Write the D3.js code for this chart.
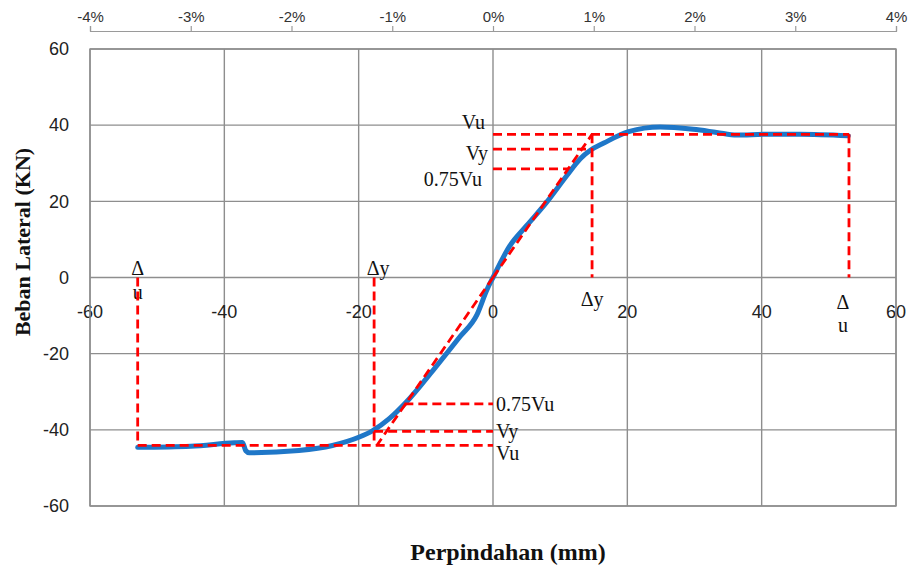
<!DOCTYPE html>
<html><head><meta charset="utf-8">
<script src="https://cdn.jsdelivr.net/npm/d3@7"></script>
<style>
html,body{margin:0;padding:0;background:#fff;}
svg{display:block;}
</style></head>
<body>
<svg id="chart" width="910" height="569"></svg>
<script>
// ---- data ----
const dispMM = [-52.9, -45, -38.5, -37.3, -36.8, -36.3, -28.9, -23.9, -19.9, -17.9, -15.4, -12.9, -8.9, -4.9, -2.4, -0.9, 0, 2.5, 5.0, 8.0, 11.0, 13.0, 14.5, 16.5, 20.2, 24.9, 29.8, 33.3, 36.3, 40.7, 45.7, 52.9];
const loadKN = [-44.6, -44.3, -43.4, -43.3, -45.5, -46.0, -45.4, -44.1, -41.9, -40.2, -37.0, -32.7, -24.3, -15.5, -9.8, -3.2, 0, 8.3, 13.6, 19.8, 26.8, 31.2, 33.4, 35.3, 38.3, 39.5, 38.9, 38.1, 37.4, 37.6, 37.6, 37.2];
const xTicks = [-60, -40, -20, 0, 20, 40, 60];
const yTicks = [-60, -40, -20, 0, 20, 40, 60];
const driftTicks = [-4, -3, -2, -1, 0, 1, 2, 3, 4];
// bilinear idealisation values
const posVu = 37.6, posVy = 33.7, posV75 = 28.5, posDy = 14.75, posDu = 53.0, posDiagX75 = 11.3;
const negVu = -44.1, negVy = -40.4, negV75 = -33.2, negDy = -17.7, negDu = -52.9, negDiagX = -17.3, negDiagX75 = -13.2;

// ---- layout ----
const svg = d3.select("#chart");
const L = 90, R = 896, T = 49, B = 506;
const x = d3.scaleLinear().domain([-60, 60]).range([L, R]);
const y = d3.scaleLinear().domain([-60, 60]).range([B, T]);
const xTop = d3.scaleLinear().domain([-4, 4]).range([L, R]);

const grid = svg.append("g");
grid.selectAll("line.v").data(xTicks).enter().append("line")
  .attr("x1", d => x(d)).attr("x2", d => x(d)).attr("y1", T).attr("y2", B)
  .attr("stroke", "#8e8e8e").attr("stroke-width", 1.4);
grid.selectAll("line.h").data(yTicks).enter().append("line")
  .attr("x1", L).attr("x2", R).attr("y1", d => y(d)).attr("y2", d => y(d))
  .attr("stroke", "#8e8e8e").attr("stroke-width", 1.4);

// y tick labels
svg.append("g").selectAll("text").data(yTicks).enter().append("text")
  .attr("x", 69).attr("y", d => y(d)).attr("dy", "0.35em")
  .attr("text-anchor", "end").attr("font-family", "Liberation Sans, Arial, sans-serif")
  .attr("font-size", 18).attr("fill", "#222").text(d => d);

// x tick labels (along zero line)
svg.append("g").selectAll("text").data(xTicks).enter().append("text")
  .attr("x", d => x(d)).attr("y", y(0) + 40)
  .attr("text-anchor", "middle").attr("font-family", "Liberation Sans, Arial, sans-serif")
  .attr("font-size", 18).attr("fill", "#222").text(d => d);

// top drift axis
const topAxis = d3.axisTop(xTop).tickValues(driftTicks).tickSize(5).tickFormat(d => d + "%");
const ta = svg.append("g").attr("transform", "translate(0,31)").call(topAxis);
ta.select(".domain").attr("stroke", "#9a9a9a").attr("stroke-width", 1.2);
ta.selectAll(".tick line").attr("stroke", "#9a9a9a").attr("stroke-width", 1.2);
ta.selectAll(".tick text").attr("font-family", "Liberation Sans, Arial, sans-serif")
  .attr("font-size", 15).attr("fill", "#333").attr("y", -9);

// annotation labels (under dashed lines)
const ann = svg.append("g").attr("font-family", "Liberation Serif, Times New Roman, serif")
  .attr("font-size", 20).attr("fill", "#111");
function lab(tx, px, py, anchor) {
  ann.append("text").attr("x", px).attr("y", py).attr("dy", "0.35em")
    .attr("text-anchor", anchor).text(tx);
}
lab("Vu", x(0) - 8, y(posVu) - 12, "end");
lab("Vy", x(0) - 5, y(posVy) + 4, "end");
lab("0.75Vu", x(0) - 11, y(posV75) + 10, "end");
lab("\u0394y", x(posDy), y(0) + 21, "middle");
lab("\u0394", x(posDu) - 6, y(0) + 24, "middle");
lab("u", x(posDu) - 6, y(0) + 47, "middle");
lab("\u0394", x(negDu), y(0) - 10, "middle");
lab("u", x(negDu), y(0) + 14, "middle");
lab("\u0394y", x(negDy) + 4, y(0) - 10, "middle");
lab("0.75Vu", x(0) + 3, y(negV75), "start");
lab("Vy", x(0) + 3, y(negVy), "start");
lab("Vu", x(0) + 3, y(negVu) + 8, "start");

// plot border
svg.append("rect").attr("x", L).attr("y", T).attr("width", R - L).attr("height", B - T)
  .attr("fill", "none").attr("stroke", "#8e8e8e").attr("stroke-width", 1.4);

// curve
const line = d3.line().x(d => x(d[0])).y(d => y(d[1])).curve(d3.curveMonotoneX);
svg.append("path").datum(dispMM.map((d, i) => [d, loadKN[i]]))
  .attr("d", line).attr("fill", "none").attr("stroke", "#1f77c8")
  .attr("stroke-width", 5).attr("stroke-linejoin", "round").attr("stroke-linecap", "round");

// dashed red idealisation lines
const segs = [
  [[0, posVu], [posDu, posVu]],
  [[posDu, posVu], [posDu, 0]],
  [[0, posVy], [posDy, posVy]],
  [[0, posV75], [posDiagX75, posV75]],
  [[posDy, posVu], [posDy, 0]],
  [[0, 0], [posDy, posVu]],
  [[0, 0], [negDiagX, negVu]],
  [[negDu, 0], [negDu, negVu]],
  [[negDu, negVu], [0, negVu]],
  [[negDy, 0], [negDy, negVu]],
  [[negDy, negVy], [0, negVy]],
  [[negDiagX75, negV75], [0, negV75]]
];
svg.append("g").selectAll("line").data(segs).enter().append("line")
  .attr("x1", d => x(d[0][0])).attr("y1", d => y(d[0][1]))
  .attr("x2", d => x(d[1][0])).attr("y2", d => y(d[1][1]))
  .attr("stroke", "#ff0000").attr("stroke-width", 2.8).attr("stroke-dasharray", "9,5");

// axis titles
svg.append("text").attr("x", 508).attr("y", 560)
  .attr("text-anchor", "middle").attr("font-family", "Liberation Serif, Times New Roman, serif")
  .attr("font-weight", "bold").attr("font-size", 24).attr("fill", "#111").text("Perpindahan (mm)");
svg.append("text").attr("transform", "translate(30,242) rotate(-90)")
  .attr("text-anchor", "middle").attr("font-family", "Liberation Serif, Times New Roman, serif")
  .attr("font-weight", "bold").attr("font-size", 22).attr("fill", "#111").text("Beban Lateral (KN)");
</script>
</body></html>
